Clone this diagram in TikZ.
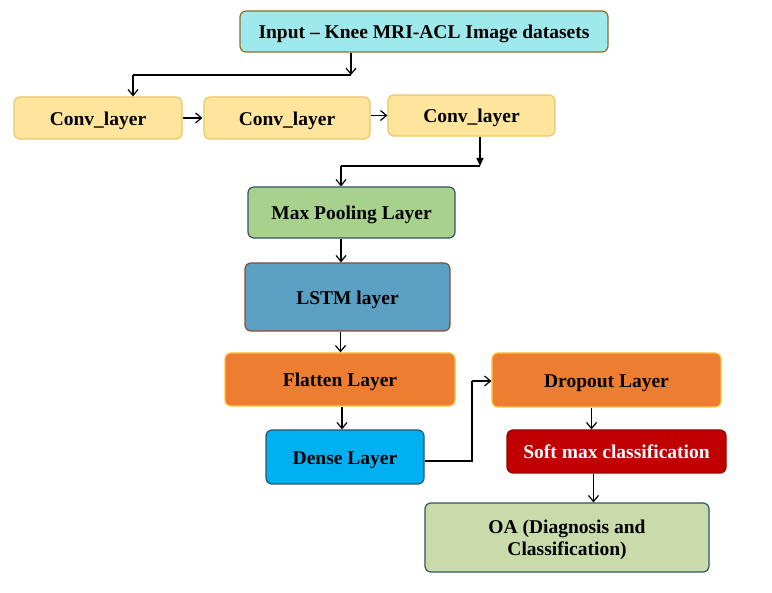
\documentclass[tikz,border=0pt]{standalone}
\usepackage{fontspec}
\setmainfont{Liberation Serif}
\usetikzlibrary{arrows.meta}
\definecolor{incyan}{HTML}{9DE9EC}
\definecolor{inbrd}{HTML}{8C6D2C}
\definecolor{convf}{HTML}{FFE49C}
\definecolor{convb}{HTML}{E6C76A}
\definecolor{poolf}{HTML}{A9D18E}
\definecolor{darkb}{HTML}{2F5566}
\definecolor{lstmf}{HTML}{5B9FC3}
\definecolor{lstmb}{HTML}{8A4B35}
\definecolor{orf}{HTML}{ED7D31}
\definecolor{orb}{HTML}{FFC23A}
\definecolor{densef}{HTML}{00B0F0}
\definecolor{redf}{HTML}{C00000}
\definecolor{oaf}{HTML}{C9DBAB}
\begin{document}
\begin{tikzpicture}[x=1pt,y=-1pt,
  base/.style={draw, rounded corners=6pt, line width=1.2pt, inner sep=0pt,
    font=\fontsize{19.5}{22}\selectfont\bfseries, align=center},
  box/.style={base, text height=15pt, text depth=0pt},
  arr/.style={-{Straight Barb[length=6pt,width=10pt]}, line width=1.2pt},
  tarr/.style={-{Triangle[length=8pt,width=7pt]}, line width=1.2pt},
  ln/.style={line width=1.2pt}]
\useasboundingbox (0,0) rectangle (772,593);
\node[box, fill=incyan, draw=inbrd, minimum width=368pt, minimum height=41pt] (inp) at (424,31.5) {Input -- Knee MRI-ACL Image datasets};
\node[box, fill=convf, draw=convb, minimum width=168pt, minimum height=42pt] (c1) at (98,118) {Conv\_layer};
\node[box, fill=convf, draw=convb, minimum width=166pt, minimum height=42pt] (c2) at (287,118) {Conv\_layer};
\node[box, fill=convf, draw=convb, minimum width=167pt, minimum height=41pt] (c3) at (471.5,115.5) {Conv\_layer};
\node[box, fill=poolf, draw=darkb, minimum width=207pt, minimum height=51pt] (pool) at (351.5,212.5) {Max Pooling Layer};
\node[box, fill=lstmf, draw=lstmb, minimum width=205pt, minimum height=68pt] (lstm) at (347.5,297) {LSTM layer};
\node[box, fill=orf, draw=orb, minimum width=230pt, minimum height=53pt] (flat) at (340,379.5) {Flatten Layer};
\node[box, fill=densef, draw=darkb, minimum width=158pt, minimum height=54pt] (dense) at (345,457) {Dense Layer};
\node[box, fill=orf, draw=orb, minimum width=229pt, minimum height=54pt] (drop) at (606.5,380) {Dropout Layer};
\node[box, fill=redf, draw=redf!80!black, text=white, minimum width=219pt, minimum height=43pt] (soft) at (616.5,451.5) {Soft max classification};
\node[base, fill=oaf, draw=darkb, minimum width=284pt, minimum height=69pt] (oa) at (567,537.5) {};
\node[base, draw=none, fill=none] (oatxt) at (567,540) {OA (Diagnosis and\\Classification)};

\coordinate (j1) at (351,75);
\coordinate (j1l) at (133,75);
\coordinate (j2) at (480,166);
\coordinate (j2l) at (341,166);
\coordinate (j3) at (472,461);
\coordinate (j3u) at (472,381);

\draw[arr] (inp.south -| j1) -- (j1);
\draw[ln] (j1) -- (j1l);
\draw[arr] (j1l) -- (c1.north -| j1l);
\draw[arr] (c1.east) -- ([xshift=-1pt]c2.west);
\draw[arr] (c2.east |- c3.west) -- (c3.west);
\draw[tarr] (c3.south -| j2) -- (j2);
\draw[ln] (j2) -- (j2l);
\draw[arr] (j2l) -- (pool.north -| j2l);
\draw[arr] (pool.south -| j2l) -- (lstm.north -| j2l);
\draw[arr] ([xshift=-7pt]lstm.south) -- ([xshift=-7pt]lstm.south |- flat.north);
\draw[arr] ([xshift=2pt]flat.south) -- ([xshift=2pt]flat.south |- dense.north);
\draw[ln] (dense.east |- j3) -- (j3) -- (j3u);
\draw[arr] (j3u) -- (drop.west |- j3u);
\draw[arr] ([xshift=-15pt]drop.south) -- ([xshift=-15pt]drop.south |- soft.north);
\draw[arr] ([xshift=-23pt]soft.south) -- ([xshift=-23pt]soft.south |- oa.north);
\end{tikzpicture}
\end{document}
